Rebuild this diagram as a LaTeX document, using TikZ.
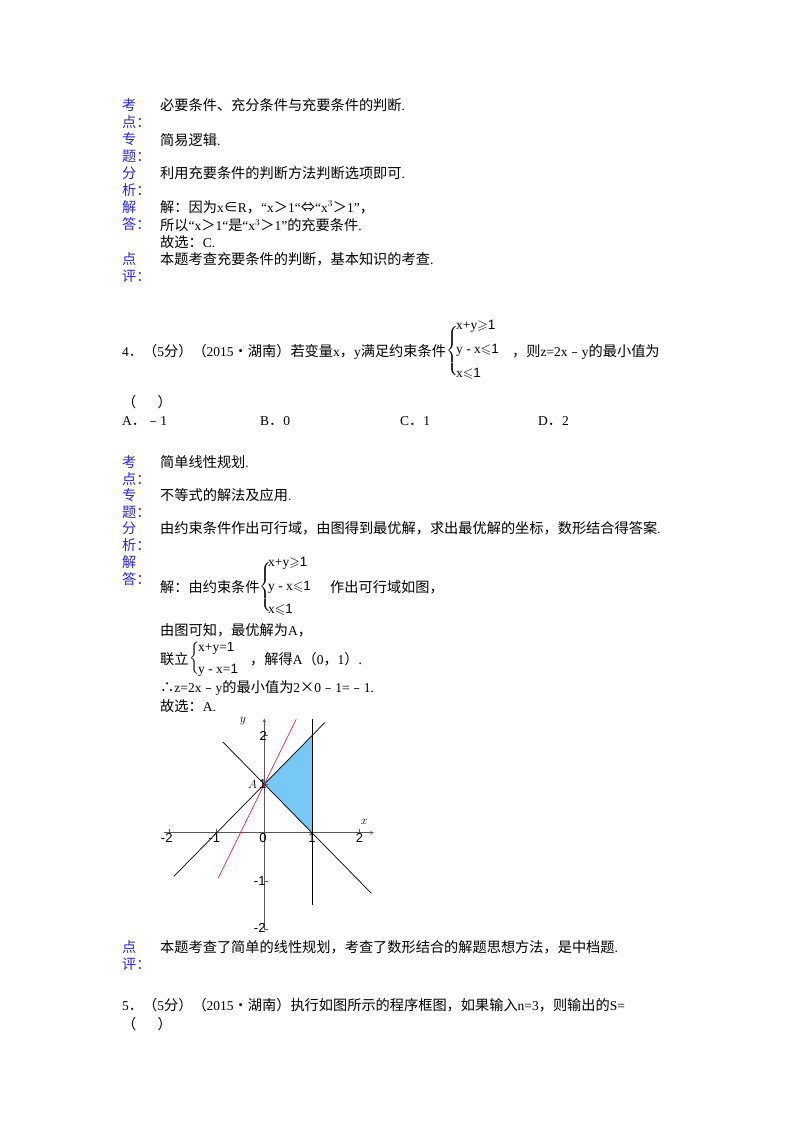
\documentclass[tikz,border=0pt]{standalone}
\usepackage{amsmath,amssymb}
\usepackage{fontspec}
\setmainfont{Liberation Serif}
\newfontfamily\cjkf{Noto Sans CJK SC}
\newfontfamily\sys{Liberation Sans}
\newcommand\cjk{\cjkf\fontsize{14.2}{16}\selectfont}
\newcommand\latn{\fontspec{Liberation Serif}\fontsize{13.5}{16}\selectfont}
\newcount\cc
\cc="3000 \loop\ifnum\cc<"3040 \XeTeXcharclass\cc=1 \advance\cc1 \repeat
\cc="4E00 \loop\ifnum\cc<"A000 \XeTeXcharclass\cc=1 \advance\cc1 \repeat
\cc="FE30 \loop\ifnum\cc<"FFF0 \XeTeXcharclass\cc=1 \advance\cc1 \repeat
\XeTeXcharclass`•=1 \XeTeXcharclass`∴=1
\XeTeXcharclass`×=1 \XeTeXcharclass`⇔=1 \XeTeXcharclass`∈=1
\XeTeXinterchartokenstate=1
\XeTeXinterchartoks 0 1 = {\cjk}
\XeTeXinterchartoks 4095 1 = {\cjk}
\XeTeXinterchartoks 1 0 = {\latn}
\definecolor{lab}{RGB}{40,40,220}
\definecolor{fillb}{RGB}{120,200,245}
\definecolor{redl}{RGB}{215,40,80}
\newcommand\one{{\sys 1}}
\begin{document}
\begin{tikzpicture}[x=1pt,y=-1pt,
  t/.style={anchor=west,inner sep=0pt,font=\latn},
  lb/.style={anchor=west,inner sep=0pt,text=lab,font=\cjk},
  sy/.style={anchor=west,inner sep=0pt,font=\latn},
  ax/.style={line width=0.6pt,gray!70!black},
  gl/.style={line width=0.7pt},
  tk/.style={font=\sys\fontsize{13}{14}\selectfont,inner sep=1pt}]
\useasboundingbox (0,0) rectangle (800,1132);
% block 1
\node[lb] (k1) at (122,105) {考};\node[lb] (k1b) at (122,122) {点：};
\node[t] (a1) at (160,105) {必要条件、充分条件与充要条件的判断.};
\node[lb] (k2) at (122,139) {专};\node[lb] (k2b) at (122,156) {题：};
\node[t] (a2) at (160,140) {简易逻辑.};
\node[lb] (k3) at (122,173) {分};\node[lb] (k3b) at (122,190) {析：};
\node[t] (a3) at (160,173) {利用充要条件的判断方法判断选项即可.};
\node[lb] (k4) at (122,207) {解};\node[lb] (k4b) at (122,224) {答：};
\node[t] (a4) at (160,207) {解：因为x∈R，“x＞1“⇔“x$^3$＞1”，};
\node[t] (a5) at (160,225) {所以“x＞1“是“x$^3$＞1”的充要条件.};
\node[t] (a6) at (160,242) {故选：C.};
\node[lb] (k5) at (122,259) {点};\node[lb] (k5b) at (122,276) {评：};
\node[t] (a7) at (160,259) {本题考查充要条件的判断，基本知识的考查.};
% question 4
\node[t] (q4) at (122,352) {4．（5分）（2015•湖南）若变量x，y满足约束条件};
\node[sy] (s1) at (446,350) {$\left\{\rule{0pt}{30pt}\right.$};
\node[sy] (s1a) at (456,326) {x+y$\geqslant$\one};
\node[sy] (s1b) at (456,350) {y - x$\leqslant$\one};
\node[sy] (s1c) at (456,374) {x$\leqslant$\one};
\node[t] (q4b) at (512,352) {，则z=2x﹣y的最小值为};
\node[t] (q4c) at (122,402) {（\hspace{1.5em}）};
\node[t] (oA) at (122,421) {A．﹣1};
\node[t] (oB) at (260,421) {B．0};
\node[t] (oC) at (400,421) {C．1};
\node[t] (oD) at (538,421) {D．2};
% block 2
\node[lb] (m1) at (122,462) {考};\node[lb] (m1b) at (122,479) {点：};
\node[t] (b1) at (160,462) {简单线性规划.};
\node[lb] (m2) at (122,495) {专};\node[lb] (m2b) at (122,512) {题：};
\node[t] (b2) at (160,495) {不等式的解法及应用.};
\node[lb] (m3) at (122,528) {分};\node[lb] (m3b) at (122,545) {析：};
\node[t] (b3) at (160,528) {由约束条件作出可行域，由图得到最优解，求出最优解的坐标，数形结合得答案.};
\node[lb] (m4) at (122,562) {解};\node[lb] (m4b) at (122,579) {答：};
\node[t] (b4) at (160,587) {解：由约束条件};
\node[sy] (s2) at (259,586) {$\left\{\rule{0pt}{30pt}\right.$};
\node[sy] (s2a) at (268,563) {x+y$\geqslant$\one};
\node[sy] (s2b) at (268,587) {y - x$\leqslant$\one};
\node[sy] (s2c) at (268,610) {x$\leqslant$\one};
\node[t] (b5) at (330,587) {作出可行域如图，};
\node[t] (b6) at (160,630) {由图可知，最优解为A，};
\node[t] (b7) at (160,659) {联立};
\node[sy] (s3) at (189,658) {$\left\{\rule{0pt}{20pt}\right.$};
\node[sy] (s3a) at (198,648) {x+y=\one};
\node[sy] (s3b) at (198,670) {y - x=\one};
\node[t] (b8) at (250,659) {，解得A（0，1）.};
\node[t] (b9) at (160,688) {∴z=2x﹣y的最小值为2×0﹣1=﹣1.};
\node[t] (b10) at (160,706) {故选：A.};
% graph
\begin{scope}[shift={(264.3,832.7)},x=47.6pt,y=48.5pt]
 \fill[fillb] (0,1) -- (1,2) -- (1,0) -- cycle;
 \draw[ax,-stealth] (-2.1,0) -- (2.3,0);
 \draw[ax,-stealth] (0,-2.0) -- (0,2.35);
 \foreach \v in {-2,-1,1,2} {\draw[ax] (\v,0) -- (\v,0.08); \draw[ax] (0,\v) -- (0.08,\v);}
 \draw[gl] (-1.9,-0.9) -- (1.27,2.27);
 \draw[gl] (-0.87,1.87) -- (2.25,-1.25);
 \draw[gl] (1,2.35) -- (1,-1.5);
 \draw[gl,redl] (-0.97,-0.94) -- (0.67,2.34);
 \node[tk,below] (xl2) at (-2.05,0) {-2};
 \node[tk,below] (xl1) at (-1.05,0) {-1};
 \node[tk,below] (xl0) at (-0.03,0) {0};
 \node[tk,below] (xlp1) at (1,0) {1};
 \node[tk,below] (xlp2) at (2,0) {2};
 \node[tk,left] (yl2) at (0.08,2) {2};
 \node[tk,left] (yl1) at (0.05,-1) {-1};
 \node[tk,left] (yl3) at (0.05,-1.97) {-2};
 \node[tk,left] (yA) at (0.07,1) {$A$\,1};
 \node[tk] (xlab) at (2.1,0.22) {$x$};
 \node[tk] (ylab) at (-0.45,2.3) {$y$};
\end{scope}
\node[lb] (m5) at (122,947) {点};\node[lb] (m5b) at (122,964) {评：};
\node[t] (b11) at (160,947) {本题考查了简单的线性规划，考查了数形结合的解题思想方法，是中档题.};
\node[t] (q5) at (122,1005) {5．（5分）（2015•湖南）执行如图所示的程序框图，如果输入n=3，则输出的S=};
\node[t] (q5b) at (122,1024) {（\hspace{1.5em}）};
\end{tikzpicture}
\end{document}
